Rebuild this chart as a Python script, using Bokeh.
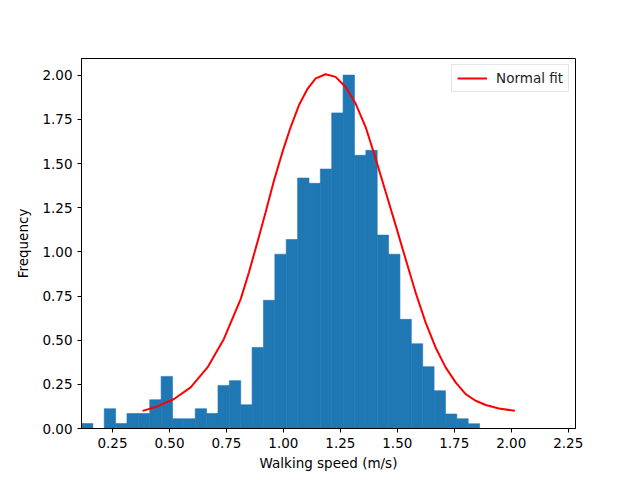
import numpy as np
from bokeh.plotting import figure
from bokeh.models import Range1d, FixedTicker, NumeralTickFormatter, Legend, LegendItem
from bokeh.embed import file_html
from bokeh.resources import INLINE

# Histogram (density)
hist_min = 0.114
hist_max = 1.861
density = [0.028, 0.0, 0.112, 0.028, 0.085, 0.085, 0.163, 0.295, 0.055, 0.055,
           0.112, 0.085, 0.244, 0.271, 0.134, 0.459, 0.726, 0.987, 1.070, 1.418,
           1.388, 1.469, 1.787, 2.001, 1.547, 1.575, 1.095, 0.987, 0.618, 0.480,
           0.350, 0.214, 0.082, 0.055, 0.027]

# Normal fit curve points
fit_x = [0.382, 0.447, 0.520, 0.593, 0.667, 0.739, 0.813, 0.849, 0.886, 0.922,
         0.959, 0.996, 1.032, 1.068, 1.105, 1.142, 1.185, 1.229, 1.273, 1.317,
         1.361, 1.405, 1.449, 1.493, 1.536, 1.580, 1.624, 1.668, 1.712, 1.756,
         1.800, 1.844, 1.888, 1.946, 2.016]
fit_y = [0.100, 0.125, 0.167, 0.233, 0.346, 0.507, 0.734, 0.885, 1.055, 1.225,
         1.405, 1.566, 1.707, 1.830, 1.921, 1.982, 2.006, 1.991, 1.934, 1.840,
         1.707, 1.528, 1.339, 1.150, 0.961, 0.771, 0.601, 0.459, 0.346, 0.261,
         0.195, 0.157, 0.133, 0.113, 0.100]

x_ticks = [0.25, 0.50, 0.75, 1.00, 1.25, 1.50, 1.75, 2.00, 2.25]
y_ticks = [0.00, 0.25, 0.50, 0.75, 1.00, 1.25, 1.50, 1.75, 2.00]

edges = np.linspace(hist_min, hist_max, len(density) + 1)

FONT = "DejaVu Sans"

p = figure(width=640, height=480, output_backend="svg", toolbar_location=None,
           x_range=Range1d(0.114, 2.282), y_range=Range1d(0, 2.095),
           min_border_left=81, min_border_right=65, min_border_top=58, min_border_bottom=52)

p.quad(left=edges[:-1], right=edges[1:], bottom=0, top=density,
       fill_color="#1f77b4", line_color="#1f77b4", line_width=0.6)
r = p.line(fit_x, fit_y, line_color="#ff0000", line_width=2)

p.grid.visible = False
p.outline_line_color = "black"
p.outline_line_width = 1
p.background_fill_color = "white"
p.border_fill_color = "white"

for ax in (p.xaxis[0], p.yaxis[0]):
    ax.major_tick_out = 4
    ax.major_tick_in = 0
    ax.minor_tick_out = 0
    ax.minor_tick_in = 0
    ax.axis_line_color = "black"
    ax.major_tick_line_color = "black"
    ax.major_label_text_font = FONT
    ax.major_label_text_font_size = "13.5px"
    ax.major_label_text_color = "black"
    ax.axis_label_text_font = FONT
    ax.axis_label_text_font_size = "13.5px"
    ax.axis_label_text_font_style = "normal"
    ax.axis_label_text_color = "black"
    ax.formatter = NumeralTickFormatter(format="0.00")

p.xaxis.ticker = FixedTicker(ticks=x_ticks)
p.yaxis.ticker = FixedTicker(ticks=y_ticks)
p.xaxis.axis_label = "Walking speed (m/s)"
p.yaxis.axis_label = "Frequency"
p.xaxis.major_label_standoff = 5
p.yaxis.major_label_standoff = 5
p.xaxis.axis_label_standoff = 4
p.yaxis.axis_label_standoff = 8

legend = Legend(items=[LegendItem(label="Normal fit", renderers=[r])],
                location="top_right")
legend.margin = 6
legend.padding = 5
legend.spacing = 0
legend.glyph_width = 30
legend.glyph_height = 16
legend.label_height = 16
legend.label_standoff = 9
legend.label_text_font = FONT
legend.label_text_font_size = "13.5px"
legend.label_text_color = "#222222"
legend.border_line_color = "#cccccc"
legend.border_line_width = 1
legend.background_fill_alpha = 0.8
p.add_layout(legend, "center")

open("out.html", "w").write(file_html(p, INLINE))
